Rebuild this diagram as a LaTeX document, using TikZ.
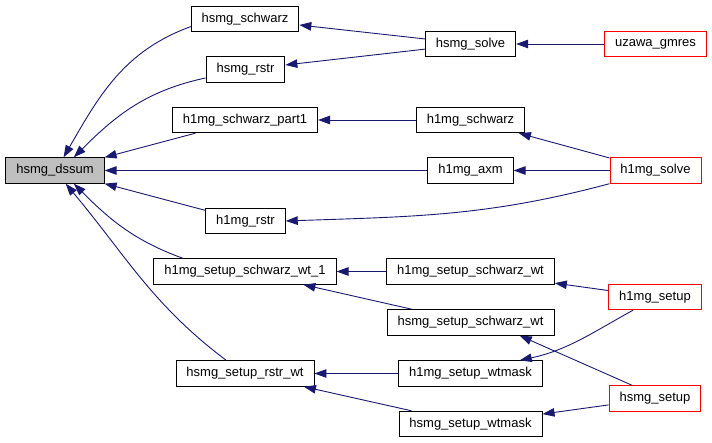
\documentclass[tikz,border=0pt]{standalone}
\usepackage{fontspec}
\setmainfont{Liberation Sans}
\usetikzlibrary{arrows.meta}
\definecolor{EdgeBlue}{HTML}{191970}
\definecolor{EntryRed}{HTML}{FF0000}
\definecolor{RootGray}{HTML}{BFBFBF}
\tikzset{>={Triangle[length=12pt,width=8.5pt]},every node/.style={font=\fontsize{13}{15}\selectfont},
 fnbox/.style={draw=black,line width=.9pt,fill=white,minimum height=25.5pt,
 inner xsep=10.5pt,inner ysep=0pt},rootbox/.style={fnbox,fill=RootGray},
 entrybox/.style={fnbox,draw=EntryRed},call/.style={draw=EdgeBlue,line width=.9pt,->}}

\begin{document}
\begin{tikzpicture}[x=1pt,y=-1pt]
\useasboundingbox (0,0) rectangle (712,443);
\node[rootbox] (dssum) at (55,170.5) {hsmg\_dssum};
\node[fnbox] (hschw) at (245,19) {hsmg\_schwarz};
\node[fnbox] (hrstr) at (245.5,69.5) {hsmg\_rstr};
\node[fnbox] (part1) at (245,120) {h1mg\_schwarz\_part1};
\node[fnbox] (h1rstr) at (245.5,221) {h1mg\_rstr};
\node[fnbox] (wt1) at (245,271.5) {h1mg\_setup\_schwarz\_wt\_1};
\node[fnbox] (rstrwt) at (245,373.5) {hsmg\_setup\_rstr\_wt};
\node[fnbox] (hsolve) at (470.5,44) {hsmg\_solve};
\node[fnbox] (h1schw) at (470.5,120) {h1mg\_schwarz};
\node[fnbox] (axm) at (470.5,170.5) {h1mg\_axm};
\node[fnbox] (h1wt) at (470.5,271.5) {h1mg\_setup\_schwarz\_wt};
\node[fnbox] (hswt) at (470.5,322.5) {hsmg\_setup\_schwarz\_wt};
\node[fnbox] (h1mask) at (470.5,373.5) {h1mg\_setup\_wtmask};
\node[fnbox] (hsmask) at (470.5,424) {hsmg\_setup\_wtmask};
\node[entrybox] (uzawa) at (655.5,44) {uzawa\_gmres};
\node[entrybox] (h1solve) at (655.5,170.5) {h1mg\_solve};
\node[entrybox] (h1setup) at (655,297) {h1mg\_setup};
\node[entrybox] (hssetup) at (655,398.5) {hsmg\_setup};
% callers of hsmg_dssum
\draw[call] (hschw.188) to[out=200,in=60] (dssum.57);
\draw[call] (hrstr.192) to[out=192,in=45] (dssum.35);
\draw[call] (part1)--(dssum);
\draw[call] (axm)--(dssum);
\draw[call] (h1rstr)--(dssum);
\draw[call] (wt1.168) to[out=160,in=-45] (dssum.325);
\draw[call] (rstrwt.145) to[out=143,in=-50] (dssum.309);
% second level
\draw[call] (hsolve)--(hschw);
\draw[call] (hsolve)--(hrstr);
\draw[call] (h1schw)--(part1);
\draw[call] (h1solve.south west) to[out=195,in=2] (h1rstr.east);
\draw[call] (h1wt)--(wt1);
\draw[call] (hswt)--(wt1);
\draw[call] (h1mask)--(rstrwt);
\draw[call] (hsmask)--(rstrwt);
% entry points
\draw[call] (uzawa)--(hsolve);
\draw[call] (h1solve)--(h1schw);
\draw[call] (h1solve)--(axm);
\draw[call] (h1setup)--(h1wt);
\draw[call] (h1setup.211) to[out=209,in=12] (h1mask.15);
\draw[call] (hssetup.150)--(hswt.345);
\draw[call] (hssetup)--(hsmask);
\end{tikzpicture}
\end{document}
